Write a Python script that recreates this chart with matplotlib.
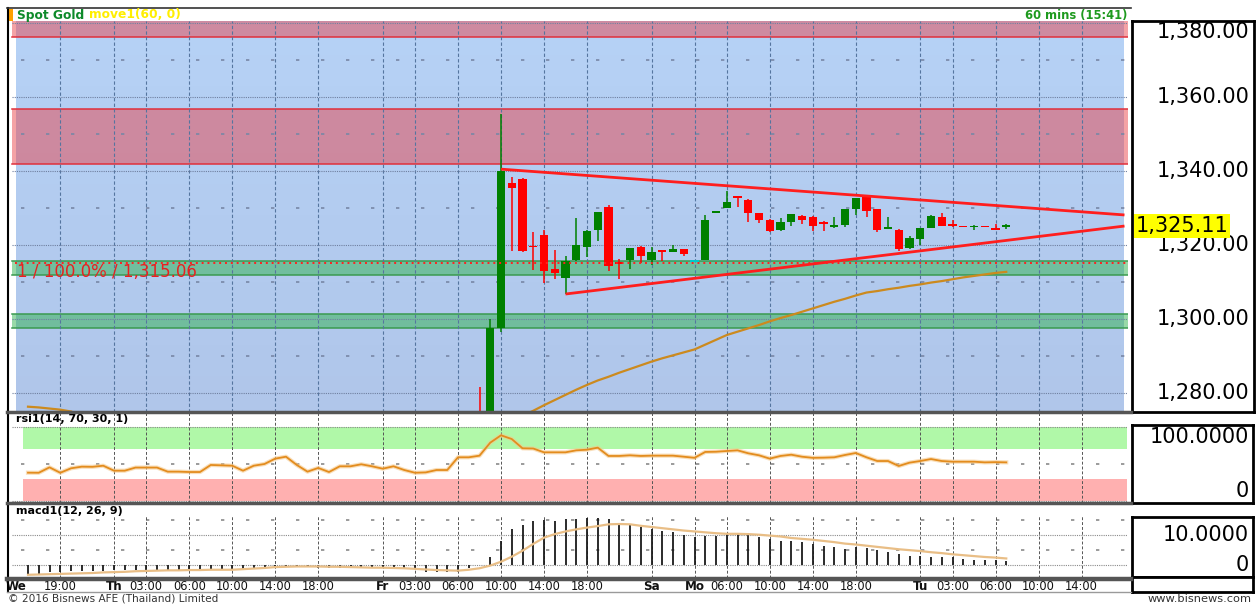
import numpy as np
import matplotlib
matplotlib.use("Agg")
from matplotlib import pyplot as plt
from matplotlib.colors import LinearSegmentedColormap
import matplotlib.transforms as mtransforms

W, H = 1258, 604

# ---------------- data (hourly bars, bar 0 = We ~17:00) ----------------
rsi = [38.1, 38.0, 45.3, 38.0, 44.0, 46.2, 46.0, 47.5, 40.8, 40.8,
       45.0, 45.0, 45.0, 39.5, 39.5, 39.0, 39.0, 48.5, 48.0, 47.5,
       40.8, 47.5, 49.8, 57.0, 59.6, 48.5, 39.5, 44.5, 39.0, 46.7,
       46.7, 49.4, 46.7, 43.5, 46.7, 41.7, 38.0, 38.5, 41.7, 41.7,
       58.8, 58.8, 61.0, 78.5, 88.4, 83.4, 70.9, 70.6, 65.5, 65.5,
       65.5, 68.2, 69.0, 71.8, 60.6, 60.6, 61.5, 60.6, 61.0, 61.0,
       61.0, 59.6, 58.1, 66.0, 66.3, 67.3, 68.2, 64.2, 61.5, 57.0,
       60.6, 62.3, 59.6, 58.1, 58.3, 58.8, 61.9, 64.6, 58.8, 53.8,
       53.8, 47.1, 51.6, 53.8, 56.5, 53.8, 52.9, 52.9, 52.9, 52.0,
       52.3, 52.0]

macd = [-3.4, -3.0, -2.6, -2.6, -2.2, -2.2, -2.0, -2.0, -1.9, -1.9,
        -1.8, -1.8, -1.8, -1.8, -1.8, -1.7, -1.7, -1.7, -1.7, -1.5,
        -1.5, -1.5, -1.4, -0.8, -0.6, -0.6, -0.8, -1.0, -1.1, -1.1,
        -1.1, -1.1, -1.1, -1.1, -1.1, -1.2, -1.4, -2.3, -2.3, -2.3,
        -2.3, -1.2, -0.2, 2.7, 8.1, 12.0, 13.5, 14.6, 15.0, 14.8,
        15.3, 15.3, 15.6, 15.8, 15.4, 13.9, 13.5, 12.7, 12.1, 11.3,
        10.9, 10.1, 9.4, 9.5, 9.7, 10.2, 10.2, 10.1, 9.3, 8.7,
        8.1, 7.9, 7.5, 7.0, 6.4, 6.1, 5.3, 6.0, 5.7, 4.9,
        4.4, 3.5, 3.0, 3.0, 2.7, 2.6, 2.5, 1.9, 1.7, 1.6,
        1.5, 1.1]

macd_signal = [-3.4, -3.3, -3.2, -3.1, -3.0, -2.9, -2.8, -2.6, -2.5, -2.4,
               -2.2, -2.1, -2.0, -1.9, -1.9, -1.8, -1.8, -1.7, -1.7, -1.7,
               -1.5, -1.3, -1.1, -0.8, -0.7, -0.6, -0.6, -0.6, -0.7, -0.7,
               -0.8, -0.9, -1.0, -1.0, -1.1, -1.2, -1.4, -1.6, -1.8, -1.9,
               -2.0, -1.7, -1.2, -0.3, 1.0, 2.7, 4.7, 7.0, 9.1, 10.3,
               11.2, 11.9, 12.5, 13.0, 13.6, 13.7, 13.6, 13.1, 12.7, 12.3,
               11.9, 11.5, 11.2, 10.9, 10.6, 10.4, 10.4, 10.3, 10.1, 9.8,
               9.5, 9.0, 8.7, 8.4, 8.0, 7.6, 7.1, 6.8, 6.4, 6.0,
               5.6, 5.2, 4.9, 4.6, 4.2, 3.9, 3.5, 3.2, 2.9, 2.6,
               2.4, 2.1]

# 60-bar moving average: visible at the start (bars 0-4) and from bar 46 on
ma_head_start = 0
ma_head = [1276.2, 1276.0, 1275.7, 1275.4, 1274.9]
ma_tail_start = 46
ma_tail = [1273.7, 1275.1, 1276.6, 1278.0, 1279.4, 1280.8, 1282.1, 1283.3, 1284.3, 1285.4,
           1286.4, 1287.4, 1288.4, 1289.3, 1290.1, 1290.9, 1291.7, 1293.0, 1294.3, 1295.6,
           1296.5, 1297.4, 1298.3, 1299.3, 1300.2, 1301.0, 1301.9, 1302.8, 1303.7, 1304.6,
           1305.4, 1306.3, 1307.1, 1307.5, 1308.0, 1308.4, 1308.9, 1309.3, 1309.8, 1310.2,
           1310.7, 1311.2, 1311.6, 1312.0, 1312.4, 1312.7]

# candles visible inside the price window (bars 42-91)
candle_start = 42
opens = [1272.0, 1268.0, 1297.5, 1336.8, 1337.9, 1319.8, 1322.7, 1313.6, 1311.0, 1315.9,
         1319.5, 1324.0, 1330.2, 1315.2, 1315.9, 1319.5, 1315.9, 1318.4, 1318.2, 1318.9,
         1315.6, 1315.9, 1328.8, 1330.1, 1333.1, 1332.2, 1328.6, 1326.8, 1323.9, 1326.3,
         1327.9, 1327.6, 1326.3, 1324.8, 1325.4, 1329.7, 1332.9, 1329.6, 1324.3, 1324.1,
         1319.1, 1321.6, 1324.6, 1327.6, 1325.7, 1325.0, 1324.9, 1325.0, 1324.4, 1325.0]
highs = [1281.5, 1300.0, 1355.5, 1338.5, 1338.2, 1323.4, 1324.1, 1318.6, 1316.9, 1327.3,
         1324.0, 1329.0, 1330.8, 1316.1, 1319.2, 1319.6, 1319.3, 1318.7, 1320.0, 1319.0,
         1315.6, 1328.1, 1329.2, 1334.6, 1333.2, 1332.3, 1328.7, 1326.9, 1327.4, 1328.4,
         1328.0, 1327.7, 1326.4, 1327.5, 1329.8, 1332.8, 1333.3, 1329.7, 1327.5, 1324.2,
         1322.3, 1324.7, 1328.0, 1328.5, 1326.7, 1325.1, 1325.5, 1325.1, 1325.7, 1325.6]
lows = [1266.0, 1266.0, 1296.5, 1318.4, 1318.2, 1313.2, 1309.8, 1310.7, 1306.6, 1315.6,
        1316.8, 1321.1, 1312.8, 1310.7, 1313.4, 1315.2, 1314.6, 1315.7, 1318.1, 1317.0,
        1315.6, 1315.8, 1328.7, 1330.0, 1330.2, 1326.3, 1325.9, 1323.6, 1323.8, 1325.0,
        1325.7, 1323.7, 1323.7, 1324.7, 1324.9, 1328.1, 1327.5, 1323.4, 1324.2, 1318.4,
        1319.0, 1319.9, 1324.5, 1325.1, 1324.9, 1324.8, 1324.0, 1324.8, 1324.2, 1324.3]
closes = [1268.0, 1297.5, 1340.1, 1335.5, 1318.4, 1319.4, 1313.0, 1312.3, 1315.7, 1320.0,
          1323.7, 1328.8, 1314.2, 1315.0, 1319.1, 1317.0, 1318.1, 1318.2, 1318.8, 1317.4,
          1315.6, 1326.8, 1329.1, 1331.7, 1332.7, 1328.6, 1326.8, 1323.8, 1326.1, 1328.3,
          1326.8, 1325.2, 1325.6, 1325.3, 1329.7, 1332.7, 1329.3, 1324.1, 1324.9, 1319.0,
          1321.8, 1324.6, 1327.7, 1325.2, 1325.0, 1324.9, 1325.0, 1324.9, 1324.3, 1325.11]
last_price = 1325.11

red_zones = [(1376.3, 1385.0), (1342.0, 1356.7)]
green_zones = [(1311.8, 1315.7), (1297.6, 1301.2)]
fib_level = 1315.06
fib_label = "1 / 100.0% / 1,315.06"
tri_upper = [(44, 1340.5), (102, 1328.1)]
tri_lower = [(50, 1306.7), (102, 1325.1)]

price_ticks = [1280, 1300, 1320, 1340, 1360, 1380]
price_labels = ["1,280.00", "1,300.00", "1,320.00", "1,340.00", "1,360.00", "1,380.00"]

time_pos = [-1.1, 3, 8, 11, 15, 19, 23, 27, 33, 36, 40, 44, 48, 52, 58,
            62, 65, 69, 73, 77, 83, 86, 90, 94, 98]
time_labels = ["We", "19:00", "Th", "03:00", "06:00", "10:00", "14:00", "18:00",
               "Fr", "03:00", "06:00", "10:00", "14:00", "18:00", "Sa",
               "Mo", "06:00", "10:00", "14:00", "18:00", "Tu", "03:00", "06:00",
               "10:00", "14:00"]
grid_pos = time_pos[1:]

# ---------------- layout ----------------
plt.rcParams['font.family'] = ['DejaVu Sans']
fig = plt.figure(figsize=(W / 100, H / 100), dpi=100)

bar0_px, bar_px = 28.0, 10.75
plot_x0, plot_x1 = 8, 1128
xlim = ((plot_x0 - bar0_px) / bar_px, (plot_x1 - bar0_px) / bar_px)


def panel(x0, y0, x1, y1):
    a = fig.add_axes([x0 / W, 1 - y1 / H, (x1 - x0) / W, (y1 - y0) / H])
    a.axis('off')
    return a


def box(x0, y0, x1, y1):
    a = fig.add_axes([x0 / W, 1 - y1 / H, (x1 - x0) / W, (y1 - y0) / H])
    a.set_xticks([])
    a.set_yticks([])
    for s in a.spines.values():
        s.set_linewidth(2)
        s.set_color('black')
    return a


def frac(px):
    return (px - plot_x0) / (plot_x1 - plot_x0)


vgrid_kw = dict(color='#55759f', lw=0.8, linestyle=(0, (3, 2)), zorder=2)

# ---------------- price panel ----------------
ax = panel(plot_x0, 21, plot_x1, 411.5)
ax.set_xlim(*xlim)
ylim_p = (1274.9, 1380.6)
ax.set_ylim(*ylim_p)

cmap = LinearSegmentedColormap.from_list('bg', ['#B0C6EA', '#B6D2F6'])
grad = np.linspace(1, 0, 100).reshape(-1, 1)
ax.imshow(grad, cmap=cmap, extent=[frac(16), frac(1124), 0, 1],
          transform=ax.transAxes, aspect='auto', zorder=0)
ax.set_xlim(*xlim)
ax.set_ylim(*ylim_p)

for lo, hi in red_zones:
    ax.axhspan(lo, hi, xmin=frac(12), xmax=1, color='#E94149', alpha=0.49, lw=0, zorder=1)
    for v in (lo, hi):
        ax.axhline(v, xmin=frac(12), xmax=1, color='#E0303C', lw=1.1, zorder=1.5)
for lo, hi in green_zones:
    ax.axhspan(lo, hi, xmin=frac(12), xmax=1, color='#32B450', alpha=0.5, lw=0, zorder=1)
    for v in (lo, hi):
        ax.axhline(v, xmin=frac(12), xmax=1, color='#3A9A50', lw=1.1, zorder=1.5)

for g in grid_pos:
    ax.axvline(g, **vgrid_kw)
for v in range(1280, 1381, 20):
    ax.axhline(v, xmin=frac(12), xmax=1, color='#6f7f9f', lw=0.8, linestyle=(0, (1, 1)), zorder=2)
for v in range(1290, 1381, 20):
    ax.axhline(v, xmin=frac(21), xmax=1, color='#7887a6', lw=1.2, linestyle=(0, (2, 13)), zorder=2)

ax.plot(np.arange(ma_head_start, ma_head_start + len(ma_head)), ma_head,
        color='#CC8A1E', lw=1.6, zorder=3)
ax.plot(np.arange(ma_tail_start, ma_tail_start + len(ma_tail)), ma_tail,
        color='#CC8A1E', lw=1.6, zorder=3)

o, hi_, lo_, c = map(np.array, (opens, highs, lows, closes))
xc = np.arange(candle_start, candle_start + len(o))
cols = np.where(c > o, '#008000', np.where(c < o, '#FF0000', '#00C8C8'))
ax.vlines(xc, lo_, hi_, colors=cols, lw=1.1, zorder=4)
body = np.abs(c - o)
body_h = np.maximum(body, 0.4)
ax.bar(xc, body_h, width=0.75, bottom=np.minimum(o, c) - (body_h - body) / 2,
       color=cols, lw=0, zorder=4)

for seg in (tri_upper, tri_lower):
    ax.plot([p[0] for p in seg], [p[1] for p in seg], color='#FF1E1E', lw=2,
            solid_capstyle='butt', zorder=5)

ax.axhline(fib_level, xmin=frac(15), xmax=1, color='#FF2020', lw=1.4,
           linestyle=(0, (1, 2)), zorder=5)
blend = mtransforms.blended_transform_factory(ax.transAxes, ax.transData)
ax.text(frac(17), fib_level - 2.3, fib_label, transform=blend, color='#E82020',
        fontsize=12, va='center', ha='left', zorder=6)

# price scale box
axp = box(1132, 21, 1254, 411.5)
axp.set_ylim(*ylim_p)
axp.set_xlim(0, 1)
for v, lab in zip(price_ticks, price_labels):
    axp.text(0.965, min(v, ylim_p[1] - 3), lab, ha='right', va='center', fontsize=15,
             color='black')
axp.text(0.03, last_price, "{:,.2f}".format(last_price), ha='left', va='center',
         fontsize=15, color='black', zorder=5,
         bbox=dict(boxstyle='square,pad=0.08', facecolor='#FFFF00', edgecolor='none'))

# ---------------- RSI panel ----------------
ar = panel(plot_x0, 413, plot_x1, 502.5)
ar.set_xlim(*xlim)
ar.set_ylim(-2.0, 118.4)
ar.axhspan(70, 100, xmin=frac(22.7), xmax=frac(1127), color='#B0F8A8', lw=0, zorder=1)
ar.axhspan(0, 30, xmin=frac(22.7), xmax=frac(1127), color='#FFB0B0', lw=0, zorder=1)
for v in (0, 100):
    ar.axhline(v, xmin=frac(12), xmax=1, color='#8a8a8a', lw=0.8, linestyle=(0, (1, 1)), zorder=2)
ar.axhline(50, xmin=frac(21), xmax=1, color='#8a8a8a', lw=1.2, linestyle=(0, (2, 13)), zorder=2)
for g in grid_pos:
    ar.axvline(g, color='#555555', lw=0.7, linestyle=(0, (3, 2)), zorder=2)
ar.plot(np.arange(len(rsi)), rsi, color='#F5C88A', lw=3, alpha=0.6, zorder=3)
ar.plot(np.arange(len(rsi)), rsi, color='#E38C1E', lw=1.3, zorder=3)

axr = box(1132, 425, 1253, 503)
axr.set_ylim(-2.7, 102.3)
axr.text(0.965, 100, "100.0000", ha='right', va='top', fontsize=15)
axr.text(0.965, 0, "0", ha='right', va='bottom', fontsize=15)

# ---------------- MACD panel ----------------
am = panel(plot_x0, 504, plot_x1, 577.5)
am.set_xlim(*xlim)
am.set_ylim(-4.31, 20.44)
for v in (0, 10):
    am.axhline(v, xmin=frac(12), xmax=1, color='#8a8a8a', lw=0.8, linestyle=(0, (1, 1)), zorder=1)
for v in (5, 15):
    am.axhline(v, xmin=frac(21), xmax=1, color='#8a8a8a', lw=1.2, linestyle=(0, (2, 13)), zorder=1)
for g in grid_pos:
    am.vlines(g, -4.31, 16.4, color='#555555', lw=0.7, linestyle=(0, (3, 2)), zorder=1)
xm = np.arange(len(macd))
am.vlines(xm, 0, macd, color='#1a1a1a', lw=1.3, zorder=2)
am.plot(xm, macd_signal, color='#E9BE86', lw=1.6, zorder=3)

axm = box(1132, 516.7, 1253, 577)
axm.set_ylim(-4.14, 16.16)
axm.text(0.965, 10, "10.0000", ha='right', va='center', fontsize=15)
axm.text(0.965, 0, "0", ha='right', va='center', fontsize=15)

box(1132, 577, 1253, 592)

# ---------------- time axis ----------------
at = panel(plot_x0, 579, plot_x1, 592)
at.set_xlim(*xlim)
at.set_ylim(0, 1)
for p, lab in zip(time_pos, time_labels):
    day = lab.isalpha()
    at.text(p, 0.45, lab, ha='center', va='center', fontsize=8.6 if day else 8.3,
            fontweight='bold' if day else 'normal', color='#111111')

# ---------------- frame, titles, footer ----------------
bg = fig.add_axes([0, 0, 1, 1])
bg.set_xlim(0, W)
bg.set_ylim(H, 0)
bg.axis('off')
bg.set_zorder(10)
bg.plot([7.5, 7.5], [8, 592], color='black', lw=1.5)
bg.plot([7, 1131], [8, 8], color='#333333', lw=1.2)
bg.plot([7, 1131], [411.8, 411.8], color='#555555', lw=2.5)
bg.plot([7, 1131], [502.8, 502.8], color='#555555', lw=2.5)
bg.plot([7, 1131], [578.8, 578.8], color='#555555', lw=3.2)
bg.plot([7, 1131], [591.8, 591.8], color='#9a9a9a', lw=1)
bg.add_patch(plt.Rectangle((7.5, 8.5), 5, 12.5, color='#FFA000', lw=0))

bg.text(17, 15, "Spot Gold", fontsize=8.8, fontweight='bold', color='#0E8A2A',
        ha='left', va='center')
bg.text(89, 15, "move1(60, 0)", fontsize=8.8, fontweight='bold', color='#FFEE00',
        ha='left', va='center')
bg.text(1127, 15, "60 mins (15:41)", fontsize=8.3, fontweight='bold', color='#1E9A1E',
        ha='right', va='center')
bg.text(16, 419, "rsi1(14, 70, 30, 1)", fontsize=8, fontweight='bold', color='black',
        ha='left', va='center')
bg.text(16, 510.5, "macd1(12, 26, 9)", fontsize=8, fontweight='bold', color='black',
        ha='left', va='center')
bg.text(8, 598.5, "\u00a9 2016 Bisnews AFE (Thailand) Limited", fontsize=7.6,
        color='#333333', ha='left', va='center')
bg.text(1252, 598.5, "www.bisnews.com", fontsize=8.2, color='#333333',
        ha='right', va='center')

fig.savefig("out.png", dpi=100)
plt.close(fig)
